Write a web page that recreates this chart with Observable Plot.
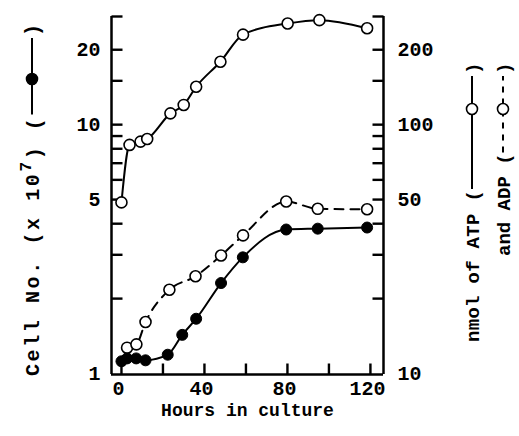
<!DOCTYPE html>
<html>
<head>
<meta charset="utf-8">
<script src="https://cdn.jsdelivr.net/npm/d3@7"></script>
<script src="https://cdn.jsdelivr.net/npm/@observablehq/plot@0.6"></script>
<style>
  html, body { margin: 0; padding: 0; background: #fff; }
  #chart { width: 519px; height: 436px; }
</style>
</head>
<body>
<div id="chart"></div>
<script>
// ---- data ----
const cellHours = [0, 2.7, 7.1, 11.6, 22.3, 29.3, 36, 48, 58.5, 79.4, 94.6, 118.4];
const cellNo    = [1.12, 1.15, 1.15, 1.13, 1.19, 1.43, 1.66, 2.31, 2.93, 3.79, 3.82, 3.86]; // x 10^7

const atpHours = [0, 3.9, 9.2, 12.4, 23.6, 30, 36, 47.7, 58.6, 80.1, 95.4, 118.4];
const atpNmol  = [48.7, 82.9, 85.5, 87.6, 111, 120, 142, 179, 230, 255, 263, 244];

const adpHours = [2.7, 7.2, 11.6, 23.1, 35.7, 48, 58.6, 79.4, 94.6, 118.4];
const adpNmol  = [12.7, 13.1, 16.1, 21.7, 24.6, 29.8, 35.9, 49.1, 45.9, 45.7];

const xDomain = [-4.8, 126.3];
const yDomain = [0.991, 27.2];          // cell no. units (right axis = x10 nmol)
const xTicks = [0, 20, 40, 60, 80, 100, 120];
const xLabels = [0, 40, 80, 120];
const yTicks = [2, 3, 4, 5, 6, 7, 8, 9, 10, 15, 20];
const leftLabels = [1, 5, 10, 20];
const rightLabels = [10, 50, 100, 200];
const NMOL_PER_UNIT = 10;

const FONT = "'Liberation Mono', 'DejaVu Sans Mono', monospace";

const W = 519, H = 436, ML = 111, MR = 136, MT = 16, MB = 62;
const TICK = 11; // tick length, px
const TICK_COLOR = "black";
// tick lengths expressed in each scale's units
const xPerPx = (xDomain[1] - xDomain[0]) / (W - ML - MR);
const yLogPerPx = Math.log10(yDomain[1] / yDomain[0]) / (H - MT - MB);
const xTickLen = TICK * xPerPx;
const yTickFactor = Math.pow(10, TICK * yLogPerPx);

const cells = cellHours.map((h, i) => ({h, v: cellNo[i]}));
const atp = atpHours.map((h, i) => ({h, v: atpNmol[i] / NMOL_PER_UNIT}));
const adp = adpHours.map((h, i) => ({h, v: adpNmol[i] / NMOL_PER_UNIT}));
const yTickAll = [...yTicks, yDomain[1]];
const leftTickSegs = yTickAll.map(v => ({x1: xDomain[0], x2: xDomain[0] + xTickLen, y: v}));
const rightTickSegs = yTickAll.map(v => ({x1: xDomain[1] - xTickLen, x2: xDomain[1], y: v}));
const bottomTickSegs = xTicks.map(h => ({x: h, y1: yDomain[0], y2: yDomain[0] * yTickFactor}));

const plot = Plot.plot({
  width: W,
  height: H,
  marginLeft: ML,
  marginRight: MR,
  marginTop: MT,
  marginBottom: MB,
  x: {domain: xDomain, axis: null},
  y: {type: "log", domain: yDomain, axis: null},
  style: {fontFamily: FONT, fontWeight: "bold", fontSize: "20px", background: "white", color: "black", overflow: "visible"},
  marks: [
    // frame (left, right, bottom)
    Plot.ruleX([xDomain[0], xDomain[1]], {stroke: "black", strokeWidth: 2.5}),
    Plot.ruleY([yDomain[0]], {stroke: "black", strokeWidth: 2.5}),
    // inward ticks
    Plot.link(leftTickSegs, {x1: "x1", x2: "x2", y1: "y", y2: "y", stroke: TICK_COLOR, strokeWidth: 2.4}),
    Plot.link(rightTickSegs, {x1: "x1", x2: "x2", y1: "y", y2: "y", stroke: TICK_COLOR, strokeWidth: 2.4}),
    Plot.link(bottomTickSegs, {x1: "x", x2: "x", y1: "y1", y2: "y2", stroke: TICK_COLOR, strokeWidth: 2.4}),
    // tick labels
    Plot.axisY(leftLabels, {anchor: "left", tickSize: 0, tickPadding: 11, fontSize: 20, tickFormat: d => String(d), label: null}),
    Plot.axisY(rightLabels.map(v => v / NMOL_PER_UNIT), {anchor: "right", tickSize: 0, tickPadding: 14, fontSize: 20,
      tickFormat: d => String(Math.round(d * NMOL_PER_UNIT)), label: null}),
    Plot.axisX(xLabels, {anchor: "bottom", tickSize: 0, tickPadding: 6, fontSize: 20, dx: -3, tickFormat: d => String(d), label: null}),
    Plot.text(["Hours in culture"], {frameAnchor: "bottom", dy: 36, fontSize: 18, lineAnchor: "middle"}),
    // series lines
    Plot.line(atp, {x: "h", y: "v", curve: "monotone-x", stroke: "black", strokeWidth: 2}),
    Plot.line(adp, {x: "h", y: "v", curve: "monotone-x", stroke: "black", strokeWidth: 2, strokeDasharray: "9,7"}),
    Plot.line(cells, {x: "h", y: "v", curve: "monotone-x", stroke: "black", strokeWidth: 2}),
    // markers
    Plot.dot(adp, {x: "h", y: "v", r: 5.5, fill: "white", stroke: "black", strokeWidth: 1.6}),
    Plot.dot(atp, {x: "h", y: "v", r: 5.5, fill: "white", stroke: "black", strokeWidth: 1.6}),
    Plot.dot(cells, {x: "h", y: "v", r: 5.5, fill: "black", stroke: "black", strokeWidth: 1})
  ]
});

document.getElementById("chart").appendChild(plot);

// ---- rotated axis titles with legend symbols ----
const svg = d3.select(plot);
const g = svg.append("g")
  .attr("font-family", FONT)
  .attr("font-weight", "bold")
  .attr("text-anchor", "start")
  .attr("fill", "black");

function vTitle(cx, startY, fontSize, spacing, build, circleY, endY, filled, dashed) {
  const grp = g.append("g")
    .attr("transform", `translate(${cx},${startY}) rotate(-90)`)
    .attr("font-size", fontSize)
    .attr("letter-spacing", spacing);
  const t = grp.append("text").attr("text-anchor", "start").attr("dy", "0.35em");
  build(t);
  const L = t.node().getComputedTextLength();
  const s0 = L + 1;
  const s1 = startY - endY;
  const c = startY - circleY;
  grp.append("line")
    .attr("x1", s0).attr("x2", s1).attr("y1", 0).attr("y2", 0)
    .attr("stroke", "black").attr("stroke-width", 2)
    .attr("stroke-dasharray", dashed ? "6,6" : null);
  grp.append("circle")
    .attr("cx", c).attr("cy", 0).attr("r", 5.5)
    .attr("fill", filled ? "black" : "white")
    .attr("stroke", "black").attr("stroke-width", 1.6);
  grp.append("text").attr("text-anchor", "start").attr("x", s1 + 2).attr("dy", "0.35em").text(")");
}

vTitle(32, 376, 20, 2.6, t => {
  t.append("tspan").text("Cell No. (x 10");
  t.append("tspan").attr("dy", "-0.5em").attr("font-size", 16).text("7");
  t.append("tspan").attr("dy", "0.5em").text(") (");
}, 79, 38, true, false);

vTitle(472, 342, 19, 0.3, t => {
  t.append("tspan").text("nmol of ATP (");
}, 109, 76, false, false);

vTitle(503, 256, 19, 0, t => {
  t.append("tspan").text("and ADP (");
}, 109, 76, false, true);
</script>
</body>
</html>
